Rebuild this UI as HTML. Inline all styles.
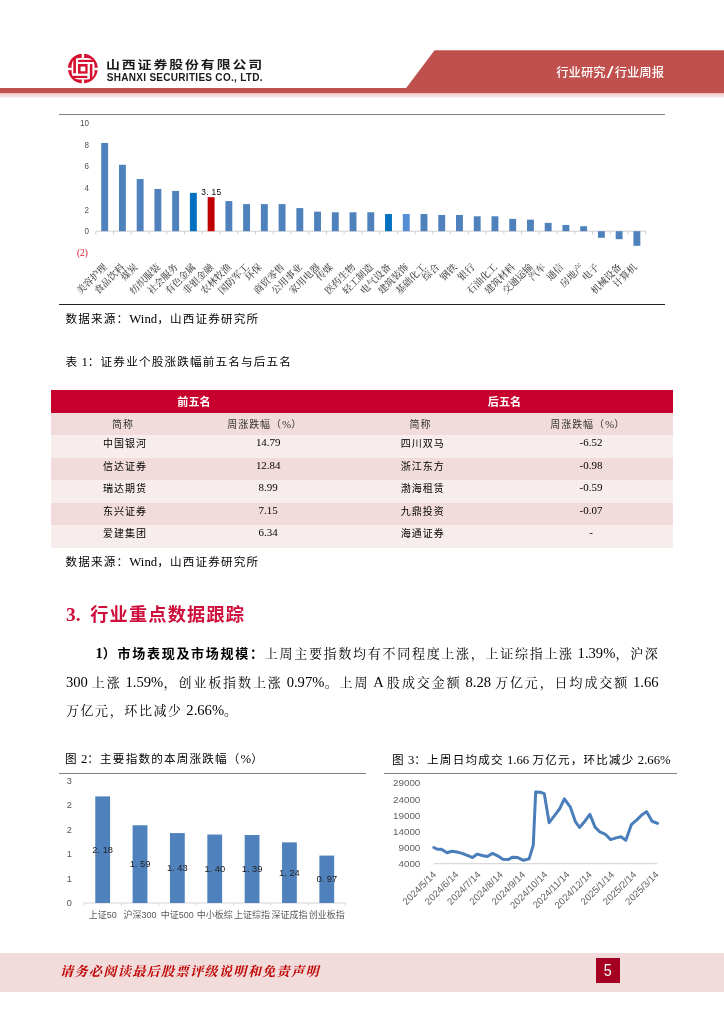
<!DOCTYPE html>
<html lang="zh-CN">
<head>
<meta charset="utf-8">
<title>山西证券 行业研究/行业周报</title>
<style>
html,body{margin:0;padding:0;background:#fff;}
body{width:724px;height:1024px;position:relative;overflow:hidden;font-family:"Liberation Serif","Noto Serif CJK SC",serif;color:#000;}
#wrap{position:absolute;left:0;top:0;width:724px;height:1024px;will-change:transform;}
.abs{position:absolute;white-space:nowrap;}
.sans{font-family:"Liberation Sans","Noto Sans CJK SC",sans-serif;}
.serif{font-family:"Liberation Serif","Noto Serif CJK SC",serif;}
/* header */
#hband{left:0;top:88px;width:724px;height:5.2px;background:#c0504d;}
#hfade{left:0;top:93.2px;width:724px;height:4.8px;background:linear-gradient(#e6adab 0%,#f2d5d4 28%,#f5dedd 72%,#fff 100%);}
#cn{left:106.2px;top:54.5px;font-size:11.8px;font-weight:700;letter-spacing:1.6px;line-height:20px;color:#1a1a1a;transform:scaleX(1.18);transform-origin:0 0;}
#en{left:106.8px;top:70.9px;font-size:10px;font-weight:700;line-height:14px;color:#1a1a1a;letter-spacing:.29px;}
#htxt{left:556.3px;top:62.5px;font-size:12.3px;font-weight:500;color:#fff;line-height:20px;}
.hr{height:1px;background:#7f7f7f;}
.cap{font-family:"Liberation Serif","Noto Sans CJK SC",sans-serif;font-weight:400;font-size:11.6px;letter-spacing:1.17px;line-height:18px;}
.cap .l{font-size:12.77px;letter-spacing:0;font-weight:400;}
.l{letter-spacing:0;}
/* table */
#tbl{left:51px;top:390px;width:622px;}
.row{position:absolute;left:0;width:622px;height:22.6px;}
.c{font-family:"Liberation Serif","Noto Sans CJK SC",sans-serif;font-weight:400;position:absolute;top:0;height:22.6px;line-height:21px;font-size:10px;letter-spacing:.95px;text-align:center;transform:translateX(-50%);white-space:nowrap;}
.c .l{font-size:10.95px;letter-spacing:0;font-weight:400;}
.th{letter-spacing:0;color:#fff;font-weight:700 !important;font-size:11.1px;font-family:"Liberation Sans","Noto Sans CJK SC",sans-serif;line-height:22px;}
/* body */
#h3{font-family:"Liberation Serif","Noto Sans CJK SC",sans-serif;left:66px;top:601.4px;font-size:18.2px;letter-spacing:1.2px;font-weight:700;color:#cf0f3b;line-height:28px;}
.p{font-size:13px;letter-spacing:1.6px;line-height:28.46px;left:66px;width:593px;}
.p .l{font-size:14.6px;letter-spacing:0;}
.p b{font-family:"Liberation Serif","Noto Sans CJK SC",sans-serif;font-weight:700;}
/* footer */
#fband{left:0;top:953px;width:724px;height:39px;background:#f2dcdb;}
#ftxt{left:60px;top:962px;font-size:13.2px;line-height:20px;color:#c00000;font-weight:700;font-style:italic;letter-spacing:1.25px;}
#pg{left:596px;top:957.5px;width:24px;height:25px;background:#a50021;color:#fff;text-align:center;font-size:17px;line-height:25px;}
</style>
</head>
<body>
<div id="wrap">
<!-- HEADER -->
<svg class="abs" style="left:0;top:0" width="724" height="100" viewBox="0 0 724 100">
  <polygon points="434.6,50.2 724,50.2 724,89 405.4,89" fill="#c0504d"/>
  <g id="logo">
    <g transform="translate(64,50) scale(0.05525)"><circle cx="341" cy="336" r="270" fill="#d5112f"/><rect x="138" y="146" width="414" height="388" rx="130" ry="125" fill="#fff"/><rect x="168" y="150" width="48" height="272" fill="#d5112f"/><rect x="255" y="178" width="290" height="40" fill="#d5112f"/><rect x="468" y="255" width="46" height="270" fill="#d5112f"/><rect x="150" y="468" width="272" height="40" fill="#d5112f"/><rect x="321" y="50" width="42" height="100" fill="#fff"/><rect x="321" y="530" width="42" height="100" fill="#fff"/><rect x="50" y="321" width="92" height="44" fill="#fff"/><rect x="548" y="321" width="92" height="44" fill="#fff"/><rect x="253" y="253" width="174" height="174" fill="#d5112f"/><rect x="300" y="300" width="85" height="85" fill="#fff"/></g>
  </g>
</svg>
<div class="abs" id="hband"></div>
<div class="abs" id="hfade"></div>
<div class="abs sans" id="cn">山西证券股份有限公司</div>
<div class="abs sans" id="en">SHANXI SECURITIES CO., LTD.</div>
<div class="abs sans" id="htxt">行业研究<span style="display:inline-block;font-weight:400;font-size:16px;line-height:1;transform:scaleX(1.55);margin:0 2.4px;position:relative;top:1.2px">/</span>行业周报</div>

<!-- CHART 1 -->
<div class="abs hr" style="left:59px;top:114px;width:606px;"></div>
<svg class="abs" style="left:0;top:110px" width="724" height="200" viewBox="0 0 724 200"><g stroke="#d0d0d0" stroke-width="1" fill="none"><line x1="95.8" y1="121.19999999999999" x2="645.74" y2="121.19999999999999"/><line x1="95.80" y1="121.19999999999999" x2="95.80" y2="124.39999999999999"/><line x1="113.54" y1="121.19999999999999" x2="113.54" y2="124.39999999999999"/><line x1="131.28" y1="121.19999999999999" x2="131.28" y2="124.39999999999999"/><line x1="149.02" y1="121.19999999999999" x2="149.02" y2="124.39999999999999"/><line x1="166.76" y1="121.19999999999999" x2="166.76" y2="124.39999999999999"/><line x1="184.50" y1="121.19999999999999" x2="184.50" y2="124.39999999999999"/><line x1="202.24" y1="121.19999999999999" x2="202.24" y2="124.39999999999999"/><line x1="219.98" y1="121.19999999999999" x2="219.98" y2="124.39999999999999"/><line x1="237.72" y1="121.19999999999999" x2="237.72" y2="124.39999999999999"/><line x1="255.46" y1="121.19999999999999" x2="255.46" y2="124.39999999999999"/><line x1="273.20" y1="121.19999999999999" x2="273.20" y2="124.39999999999999"/><line x1="290.94" y1="121.19999999999999" x2="290.94" y2="124.39999999999999"/><line x1="308.68" y1="121.19999999999999" x2="308.68" y2="124.39999999999999"/><line x1="326.42" y1="121.19999999999999" x2="326.42" y2="124.39999999999999"/><line x1="344.16" y1="121.19999999999999" x2="344.16" y2="124.39999999999999"/><line x1="361.90" y1="121.19999999999999" x2="361.90" y2="124.39999999999999"/><line x1="379.64" y1="121.19999999999999" x2="379.64" y2="124.39999999999999"/><line x1="397.38" y1="121.19999999999999" x2="397.38" y2="124.39999999999999"/><line x1="415.12" y1="121.19999999999999" x2="415.12" y2="124.39999999999999"/><line x1="432.86" y1="121.19999999999999" x2="432.86" y2="124.39999999999999"/><line x1="450.60" y1="121.19999999999999" x2="450.60" y2="124.39999999999999"/><line x1="468.34" y1="121.19999999999999" x2="468.34" y2="124.39999999999999"/><line x1="486.08" y1="121.19999999999999" x2="486.08" y2="124.39999999999999"/><line x1="503.82" y1="121.19999999999999" x2="503.82" y2="124.39999999999999"/><line x1="521.56" y1="121.19999999999999" x2="521.56" y2="124.39999999999999"/><line x1="539.30" y1="121.19999999999999" x2="539.30" y2="124.39999999999999"/><line x1="557.04" y1="121.19999999999999" x2="557.04" y2="124.39999999999999"/><line x1="574.78" y1="121.19999999999999" x2="574.78" y2="124.39999999999999"/><line x1="592.52" y1="121.19999999999999" x2="592.52" y2="124.39999999999999"/><line x1="610.26" y1="121.19999999999999" x2="610.26" y2="124.39999999999999"/><line x1="628.00" y1="121.19999999999999" x2="628.00" y2="124.39999999999999"/><line x1="645.74" y1="121.19999999999999" x2="645.74" y2="124.39999999999999"/></g><g font-family="'Liberation Sans',sans-serif" font-size="9.2" fill="#505050" text-anchor="end"><text x="89" y="16.20" textLength="9.0" lengthAdjust="spacingAndGlyphs">10</text><text x="89" y="37.80" textLength="4.5" lengthAdjust="spacingAndGlyphs">8</text><text x="89" y="59.40" textLength="4.5" lengthAdjust="spacingAndGlyphs">6</text><text x="89" y="81.00" textLength="4.5" lengthAdjust="spacingAndGlyphs">4</text><text x="89" y="102.60" textLength="4.5" lengthAdjust="spacingAndGlyphs">2</text><text x="89" y="124.20" textLength="4.5" lengthAdjust="spacingAndGlyphs">0</text><text x="87.9" y="146.10" fill="#dd1122" font-size="9.4" font-family="'Liberation Serif',serif">(2)</text></g><rect x="101.22" y="32.96" width="6.9" height="88.24" fill="#4f81bd"/><rect x="118.96" y="54.78" width="6.9" height="66.42" fill="#4f81bd"/><rect x="136.70" y="69.04" width="6.9" height="52.16" fill="#4f81bd"/><rect x="154.44" y="78.97" width="6.9" height="42.23" fill="#4f81bd"/><rect x="172.18" y="80.92" width="6.9" height="40.28" fill="#4f81bd"/><rect x="189.92" y="82.86" width="6.9" height="38.34" fill="#0070c0"/><rect x="207.66" y="87.18" width="6.9" height="34.02" fill="#c00000"/><rect x="225.40" y="91.07" width="6.9" height="30.13" fill="#4f81bd"/><rect x="243.14" y="94.09" width="6.9" height="27.11" fill="#4f81bd"/><rect x="260.88" y="94.09" width="6.9" height="27.11" fill="#4f81bd"/><rect x="278.62" y="94.09" width="6.9" height="27.11" fill="#4f81bd"/><rect x="296.36" y="98.09" width="6.9" height="23.11" fill="#4f81bd"/><rect x="314.10" y="101.65" width="6.9" height="19.55" fill="#4f81bd"/><rect x="331.84" y="102.30" width="6.9" height="18.90" fill="#4f81bd"/><rect x="349.58" y="102.30" width="6.9" height="18.90" fill="#4f81bd"/><rect x="367.32" y="102.30" width="6.9" height="18.90" fill="#4f81bd"/><rect x="385.06" y="104.03" width="6.9" height="17.17" fill="#0070c0"/><rect x="402.80" y="104.03" width="6.9" height="17.17" fill="#558ed5"/><rect x="420.54" y="104.03" width="6.9" height="17.17" fill="#4f81bd"/><rect x="438.28" y="105.00" width="6.9" height="16.20" fill="#4f81bd"/><rect x="456.02" y="105.00" width="6.9" height="16.20" fill="#4f81bd"/><rect x="473.76" y="106.30" width="6.9" height="14.90" fill="#4f81bd"/><rect x="491.50" y="106.30" width="6.9" height="14.90" fill="#4f81bd"/><rect x="509.24" y="108.89" width="6.9" height="12.31" fill="#4f81bd"/><rect x="526.98" y="109.64" width="6.9" height="11.56" fill="#4f81bd"/><rect x="544.72" y="112.88" width="6.9" height="8.32" fill="#4f81bd"/><rect x="562.46" y="114.94" width="6.9" height="6.26" fill="#4f81bd"/><rect x="580.20" y="116.23" width="6.9" height="4.97" fill="#4f81bd"/><rect x="597.94" y="121.20" width="6.9" height="6.59" fill="#4f81bd"/><rect x="615.68" y="121.20" width="6.9" height="7.99" fill="#4f81bd"/><rect x="633.42" y="121.20" width="6.9" height="14.58" fill="#4f81bd"/><text x="211.31" y="84.58" font-family="'Liberation Sans',sans-serif" font-size="8.4" fill="#000" text-anchor="middle" letter-spacing="0.3">3. 15</text><g font-family="'Liberation Serif','Noto Serif CJK SC',serif" font-size="9.6" font-weight="500" fill="#444" text-anchor="end"><text transform="translate(107.57,157.70) rotate(-45)">美容护理</text><text transform="translate(125.31,157.70) rotate(-45)">食品饮料</text><text transform="translate(138.35,157.70) rotate(-45)">煤炭</text><text transform="translate(160.79,157.70) rotate(-45)">纺织服装</text><text transform="translate(178.53,157.70) rotate(-45)">社会服务</text><text transform="translate(196.27,157.70) rotate(-45)">有色金属</text><text transform="translate(214.01,157.70) rotate(-45)">非银金融</text><text transform="translate(231.75,157.70) rotate(-45)">农林牧渔</text><text transform="translate(249.49,157.70) rotate(-45)">国防军工</text><text transform="translate(262.53,157.70) rotate(-45)">环保</text><text transform="translate(284.97,157.70) rotate(-45)">商贸零售</text><text transform="translate(302.71,157.70) rotate(-45)">公用事业</text><text transform="translate(320.45,157.70) rotate(-45)">家用电器</text><text transform="translate(333.49,157.70) rotate(-45)">传媒</text><text transform="translate(355.93,157.70) rotate(-45)">医药生物</text><text transform="translate(373.67,157.70) rotate(-45)">轻工制造</text><text transform="translate(391.41,157.70) rotate(-45)">电气设备</text><text transform="translate(409.15,157.70) rotate(-45)">建筑装饰</text><text transform="translate(426.89,157.70) rotate(-45)">基础化工</text><text transform="translate(439.93,157.70) rotate(-45)">综合</text><text transform="translate(457.67,157.70) rotate(-45)">钢铁</text><text transform="translate(475.41,157.70) rotate(-45)">银行</text><text transform="translate(497.85,157.70) rotate(-45)">石油化工</text><text transform="translate(515.59,157.70) rotate(-45)">建筑材料</text><text transform="translate(533.33,157.70) rotate(-45)">交通运输</text><text transform="translate(546.37,157.70) rotate(-45)">汽车</text><text transform="translate(564.11,157.70) rotate(-45)">通信</text><text transform="translate(584.20,157.70) rotate(-45)">房地产</text><text transform="translate(599.59,157.70) rotate(-45)">电子</text><text transform="translate(622.03,157.70) rotate(-45)">机械设备</text><text transform="translate(637.42,157.70) rotate(-45)">计算机</text></g></svg>
<div class="abs hr" style="left:59px;top:303.5px;width:606px;background:#222;"></div>
<div class="abs cap" style="left:65.5px;top:310.4px;">数据来源：<span class="l">Wind</span>，山西证券研究所</div>

<!-- TABLE -->
<div class="abs cap" style="left:65.5px;top:352.8px;">表<span class="l"> 1</span>：证券业个股涨跌幅前五名与后五名</div>
<div class="abs" id="tbl"><div class="row" style="top:0;background:#c8002d;height:22.8px"><div class="c th" style="left:143px;top:.8px">前五名</div><div class="c th" style="left:453.5px;top:.8px">后五名</div></div><div class="row" style="top:22.50px;background:#f2dcdb;height:22.8px"><div class="c" style="left:72.0px;top:1.6px;font-weight:400;color:#333">简称</div><div class="c" style="left:213.7px;top:1.6px;font-weight:400;color:#333">周涨跌幅（<span class="l">%</span>）</div><div class="c" style="left:369.5px;top:1.6px;font-weight:400;color:#333">简称</div><div class="c" style="left:536.7px;top:1.6px;font-weight:400;color:#333">周涨跌幅（<span class="l">%</span>）</div></div><div class="row" style="top:45.00px;background:#f8eded;height:22.8px"><div class="c" style="left:74.0px;top:-1.7999999999999998px">中国银河</div><div class="c" style="left:217.2px;top:-2.9px"><span class="l">14.79</span></div><div class="c" style="left:371.7px;top:-1.7999999999999998px">四川双马</div><div class="c" style="left:540px;top:-2.9px"><span class="l">-6.52</span></div></div><div class="row" style="top:67.50px;background:#f2dcdb;height:22.8px"><div class="c" style="left:74.0px;top:-1.7999999999999998px">信达证券</div><div class="c" style="left:217.2px;top:-2.9px"><span class="l">12.84</span></div><div class="c" style="left:371.7px;top:-1.7999999999999998px">浙江东方</div><div class="c" style="left:540px;top:-2.9px"><span class="l">-0.98</span></div></div><div class="row" style="top:90.00px;background:#f8eded;height:22.8px"><div class="c" style="left:74.0px;top:-1.7999999999999998px">瑞达期货</div><div class="c" style="left:217.2px;top:-2.9px"><span class="l">8.99</span></div><div class="c" style="left:371.7px;top:-1.7999999999999998px">渤海租赁</div><div class="c" style="left:540px;top:-2.9px"><span class="l">-0.59</span></div></div><div class="row" style="top:112.50px;background:#f2dcdb;height:22.8px"><div class="c" style="left:74.0px;top:-1.7999999999999998px">东兴证券</div><div class="c" style="left:217.2px;top:-2.9px"><span class="l">7.15</span></div><div class="c" style="left:371.7px;top:-1.7999999999999998px">九鼎投资</div><div class="c" style="left:540px;top:-2.9px"><span class="l">-0.07</span></div></div><div class="row" style="top:135.00px;background:#f8eded;height:22.8px"><div class="c" style="left:74.0px;top:-1.7999999999999998px">爱建集团</div><div class="c" style="left:217.2px;top:-2.9px"><span class="l">6.34</span></div><div class="c" style="left:371.7px;top:-1.7999999999999998px">海通证券</div><div class="c" style="left:540px;top:-2.9px"><span class="l">-</span></div></div></div>
<div class="abs cap" style="left:65.5px;top:553px;">数据来源：<span class="l">Wind</span>，山西证券研究所</div>

<!-- SECTION -->
<div class="abs" id="h3"><span class="l" style="font-size:19.4px">3.</span><span style="display:inline-block;width:9.6px"></span>行业重点数据跟踪</div>
<div class="abs p" id="pl0" style="left:95.4px;top:639.3px;width:564.1px;text-align:justify;text-align-last:justify;white-space:nowrap"><b><span class="l">1</span>）市场表现及市场规模：</b>上周主要指数均有不同程度上涨，上证综指上涨<span class="l"> 1.39%</span>，沪深</div><div class="abs p" id="pl1" style="left:65.9px;top:667.8px;width:592.7px;text-align:justify;text-align-last:justify;white-space:nowrap"><span class="l">300 </span>上涨<span class="l"> 1.59%</span>，创业板指数上涨<span class="l"> 0.97%</span>。上周<span class="l"> A </span>股成交金额<span class="l"> 8.28 </span>万亿元，日均成交额<span class="l"> 1.66</span></div><div class="abs p" id="pl2" style="left:65.9px;top:696.3px;width:auto">万亿元，环比减少<span class="l"> 2.66%</span>。</div>

<!-- CHARTS 2/3 -->
<div class="abs cap" style="left:65px;top:750px;">图<span class="l"> 2</span>：主要指数的本周涨跌幅（<span class="l">%</span>）</div>
<div class="abs hr" style="left:59px;top:773px;width:307px;"></div>
<div class="abs cap" style="left:392px;top:750.5px;">图<span class="l"> 3</span>：上周日均成交<span class="l"> 1.66 </span>万亿元，环比减少<span class="l"> 2.66%</span></div>
<div class="abs hr" style="left:384px;top:773px;width:293px;"></div>
<svg class="abs" style="left:0;top:775px" width="372" height="160" viewBox="0 0 372 160"><line x1="84" y1="128" x2="345.45" y2="128" stroke="#d4d4d4" stroke-width="1"/><line x1="84.00" y1="128" x2="84.00" y2="130.6" stroke="#d4d4d4" stroke-width="1"/><line x1="121.35" y1="128" x2="121.35" y2="130.6" stroke="#d4d4d4" stroke-width="1"/><line x1="158.70" y1="128" x2="158.70" y2="130.6" stroke="#d4d4d4" stroke-width="1"/><line x1="196.05" y1="128" x2="196.05" y2="130.6" stroke="#d4d4d4" stroke-width="1"/><line x1="233.40" y1="128" x2="233.40" y2="130.6" stroke="#d4d4d4" stroke-width="1"/><line x1="270.75" y1="128" x2="270.75" y2="130.6" stroke="#d4d4d4" stroke-width="1"/><line x1="308.10" y1="128" x2="308.10" y2="130.6" stroke="#d4d4d4" stroke-width="1"/><line x1="345.45" y1="128" x2="345.45" y2="130.6" stroke="#d4d4d4" stroke-width="1"/><g font-family="'Liberation Sans',sans-serif" font-size="9.2" fill="#555" text-anchor="middle"><text x="69.2" y="131.10">0</text><text x="69.2" y="106.65">1</text><text x="69.2" y="82.20">1</text><text x="69.2" y="57.75">2</text><text x="69.2" y="33.30">2</text><text x="69.2" y="8.85">3</text></g><rect x="95.27" y="21.40" width="14.8" height="106.60" fill="#4f81bd"/><rect x="132.62" y="50.25" width="14.8" height="77.75" fill="#4f81bd"/><rect x="169.97" y="58.07" width="14.8" height="69.93" fill="#4f81bd"/><rect x="207.32" y="59.54" width="14.8" height="68.46" fill="#4f81bd"/><rect x="244.68" y="60.03" width="14.8" height="67.97" fill="#4f81bd"/><rect x="282.03" y="67.36" width="14.8" height="60.64" fill="#4f81bd"/><rect x="319.38" y="80.57" width="14.8" height="47.43" fill="#4f81bd"/><g font-family="'Liberation Sans',sans-serif" font-size="9.3" fill="#222" text-anchor="middle"><text x="102.67" y="77.80">2. 18</text><text x="140.03" y="92.22">1. 59</text><text x="177.38" y="96.14">1. 43</text><text x="214.72" y="96.87">1. 40</text><text x="252.08" y="97.11">1. 39</text><text x="289.43" y="100.78">1. 24</text><text x="326.77" y="107.38">0. 97</text></g><g font-family="'Liberation Sans','Noto Sans CJK SC',sans-serif" font-size="9" fill="#595959" text-anchor="middle"><text x="102.67" y="143.00">上证50</text><text x="140.03" y="143.00">沪深300</text><text x="177.38" y="143.00">中证500</text><text x="214.72" y="143.00">中小板综</text><text x="252.08" y="143.00">上证综指</text><text x="289.43" y="143.00">深证成指</text><text x="326.77" y="143.00">创业板指</text></g></svg>
<svg class="abs" style="left:372px;top:775px" width="352" height="170" viewBox="372 0 352 170"><line x1="433.8" y1="88.70000000000005" x2="657" y2="88.70000000000005" stroke="#d0d0d0" stroke-width="1"/><g font-family="'Liberation Sans',sans-serif" font-size="9.8" fill="#606060" text-anchor="end"><text x="420.3" y="92.20">4000</text><text x="420.3" y="76.05">9000</text><text x="420.3" y="59.90">14000</text><text x="420.3" y="43.75">19000</text><text x="420.3" y="27.60">24000</text><text x="420.3" y="11.45">29000</text></g><path d="M433.81,72.51 L437.27,74.24 L441.41,74.24 L446.93,77.69 L451.77,76.31 L456.95,77.00 L462.13,78.38 L467.31,80.46 L472.49,82.53 L477.32,79.07 L482.15,80.46 L487.33,81.49 L492.51,78.38 L497.69,80.80 L502.87,84.25 L508.05,84.60 L512.54,82.18 L517.72,82.53 L523.59,85.29 L529.12,83.91 L533.26,70.10 L535.68,16.92 L540.17,17.27 L544.31,18.65 L549.14,47.65 L554.67,40.40 L559.85,33.49 L564.34,23.83 L570.21,31.77 L575.39,46.62 L579.53,52.49 L585.06,45.93 L589.89,39.36 L595.07,52.14 L599.90,56.98 L605.08,59.05 L610.61,64.57 L616.13,62.85 L620.97,61.81 L625.80,65.26 L631.33,49.72 L636.85,44.89 L641.69,40.06 L646.52,36.60 L652.04,46.27 L657.57,48.34" fill="none" stroke="#4a7ebb" stroke-width="3" stroke-linejoin="round" stroke-linecap="round"/><g font-family="'Liberation Sans',sans-serif" font-size="9.6" fill="#606060" text-anchor="end"><text transform="translate(436.80,100.20) rotate(-45)">2024/5/14</text><text transform="translate(459.05,100.20) rotate(-45)">2024/6/14</text><text transform="translate(481.30,100.20) rotate(-45)">2024/7/14</text><text transform="translate(503.55,100.20) rotate(-45)">2024/8/14</text><text transform="translate(525.80,100.20) rotate(-45)">2024/9/14</text><text transform="translate(548.05,100.20) rotate(-45)">2024/10/14</text><text transform="translate(570.30,100.20) rotate(-45)">2024/11/14</text><text transform="translate(592.55,100.20) rotate(-45)">2024/12/14</text><text transform="translate(614.80,100.20) rotate(-45)">2025/1/14</text><text transform="translate(637.05,100.20) rotate(-45)">2025/2/14</text><text transform="translate(659.30,100.20) rotate(-45)">2025/3/14</text></g></svg>

<!-- FOOTER -->
<div class="abs" id="fband"></div>
<div class="abs" id="ftxt">请务必阅读最后股票评级说明和免责声明</div>
<div class="abs sans" id="pg"><span style="display:inline-block;transform:scaleX(.84)">5</span></div>
</div>
</body>
</html>
